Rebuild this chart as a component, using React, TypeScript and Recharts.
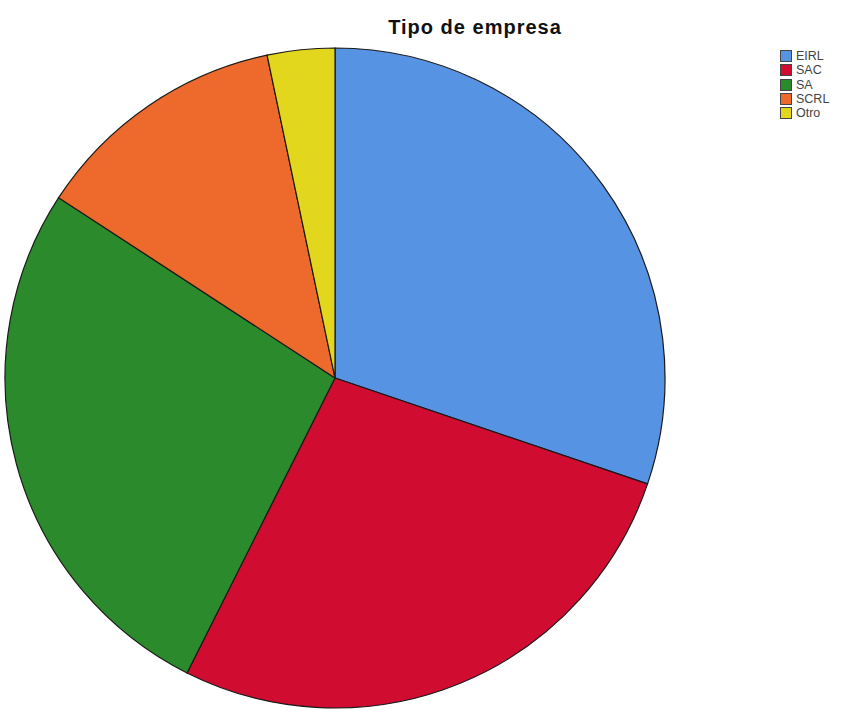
import React from 'react';
import { PieChart, Pie, Cell, Legend } from 'recharts';

const categories = ['EIRL', 'SAC', 'SA', 'SCRL', 'Otro'];
const shares = [30.2, 27.2, 26.8, 12.5, 3.3];
const colors = ['#5793e3', '#d00c30', '#2b8a2b', '#ee6a2c', '#e2d71c'];

const data = categories.map((name, i) => ({ name, value: shares[i] }));

function LegendBox() {
  return (
    <div style={{ fontFamily: 'Liberation Sans, Arial, sans-serif', fontSize: 12.5, color: '#444' }}>
      {categories.map((c, i) => (
        <div key={c} style={{ display: 'flex', alignItems: 'center', height: 14.3 }}>
          <span
            style={{
              display: 'inline-block',
              width: 10,
              height: 10,
              background: colors[i],
              border: '1px solid #444',
              marginRight: 4,
            }}
          />
          <span>{c}</span>
        </div>
      ))}
    </div>
  );
}

export default function App() {
  return (
    <div style={{ position: 'absolute', left: 0, top: 0, width: 852, height: 720, background: '#fff' }}>
      <div
        style={{
          position: 'absolute',
          left: 380,
          top: 16,
          width: 190,
          textAlign: 'center',
          fontFamily: 'Liberation Sans, Arial, sans-serif',
          fontWeight: 700,
          fontSize: 20,
          letterSpacing: 1,
          color: '#111',
        }}
      >
        Tipo de empresa
      </div>
      <PieChart width={852} height={720} margin={{ top: 0, right: 0, bottom: 0, left: 0 }}>
        <Pie
          data={data}
          dataKey="value"
          nameKey="name"
          cx={335}
          cy={378}
          outerRadius={330}
          startAngle={90}
          endAngle={-270}
          stroke="#1a1a1a"
          strokeWidth={1.2}
          isAnimationActive={false}
        >
          {data.map((d, i) => (
            <Cell key={d.name} fill={colors[i]} />
          ))}
        </Pie>
        <Legend
          layout="vertical"
          verticalAlign="top"
          align="right"
          content={() => <LegendBox />}
          wrapperStyle={{ position: 'absolute', left: 780, top: 49, width: 70 }}
        />
      </PieChart>
    </div>
  );
}
